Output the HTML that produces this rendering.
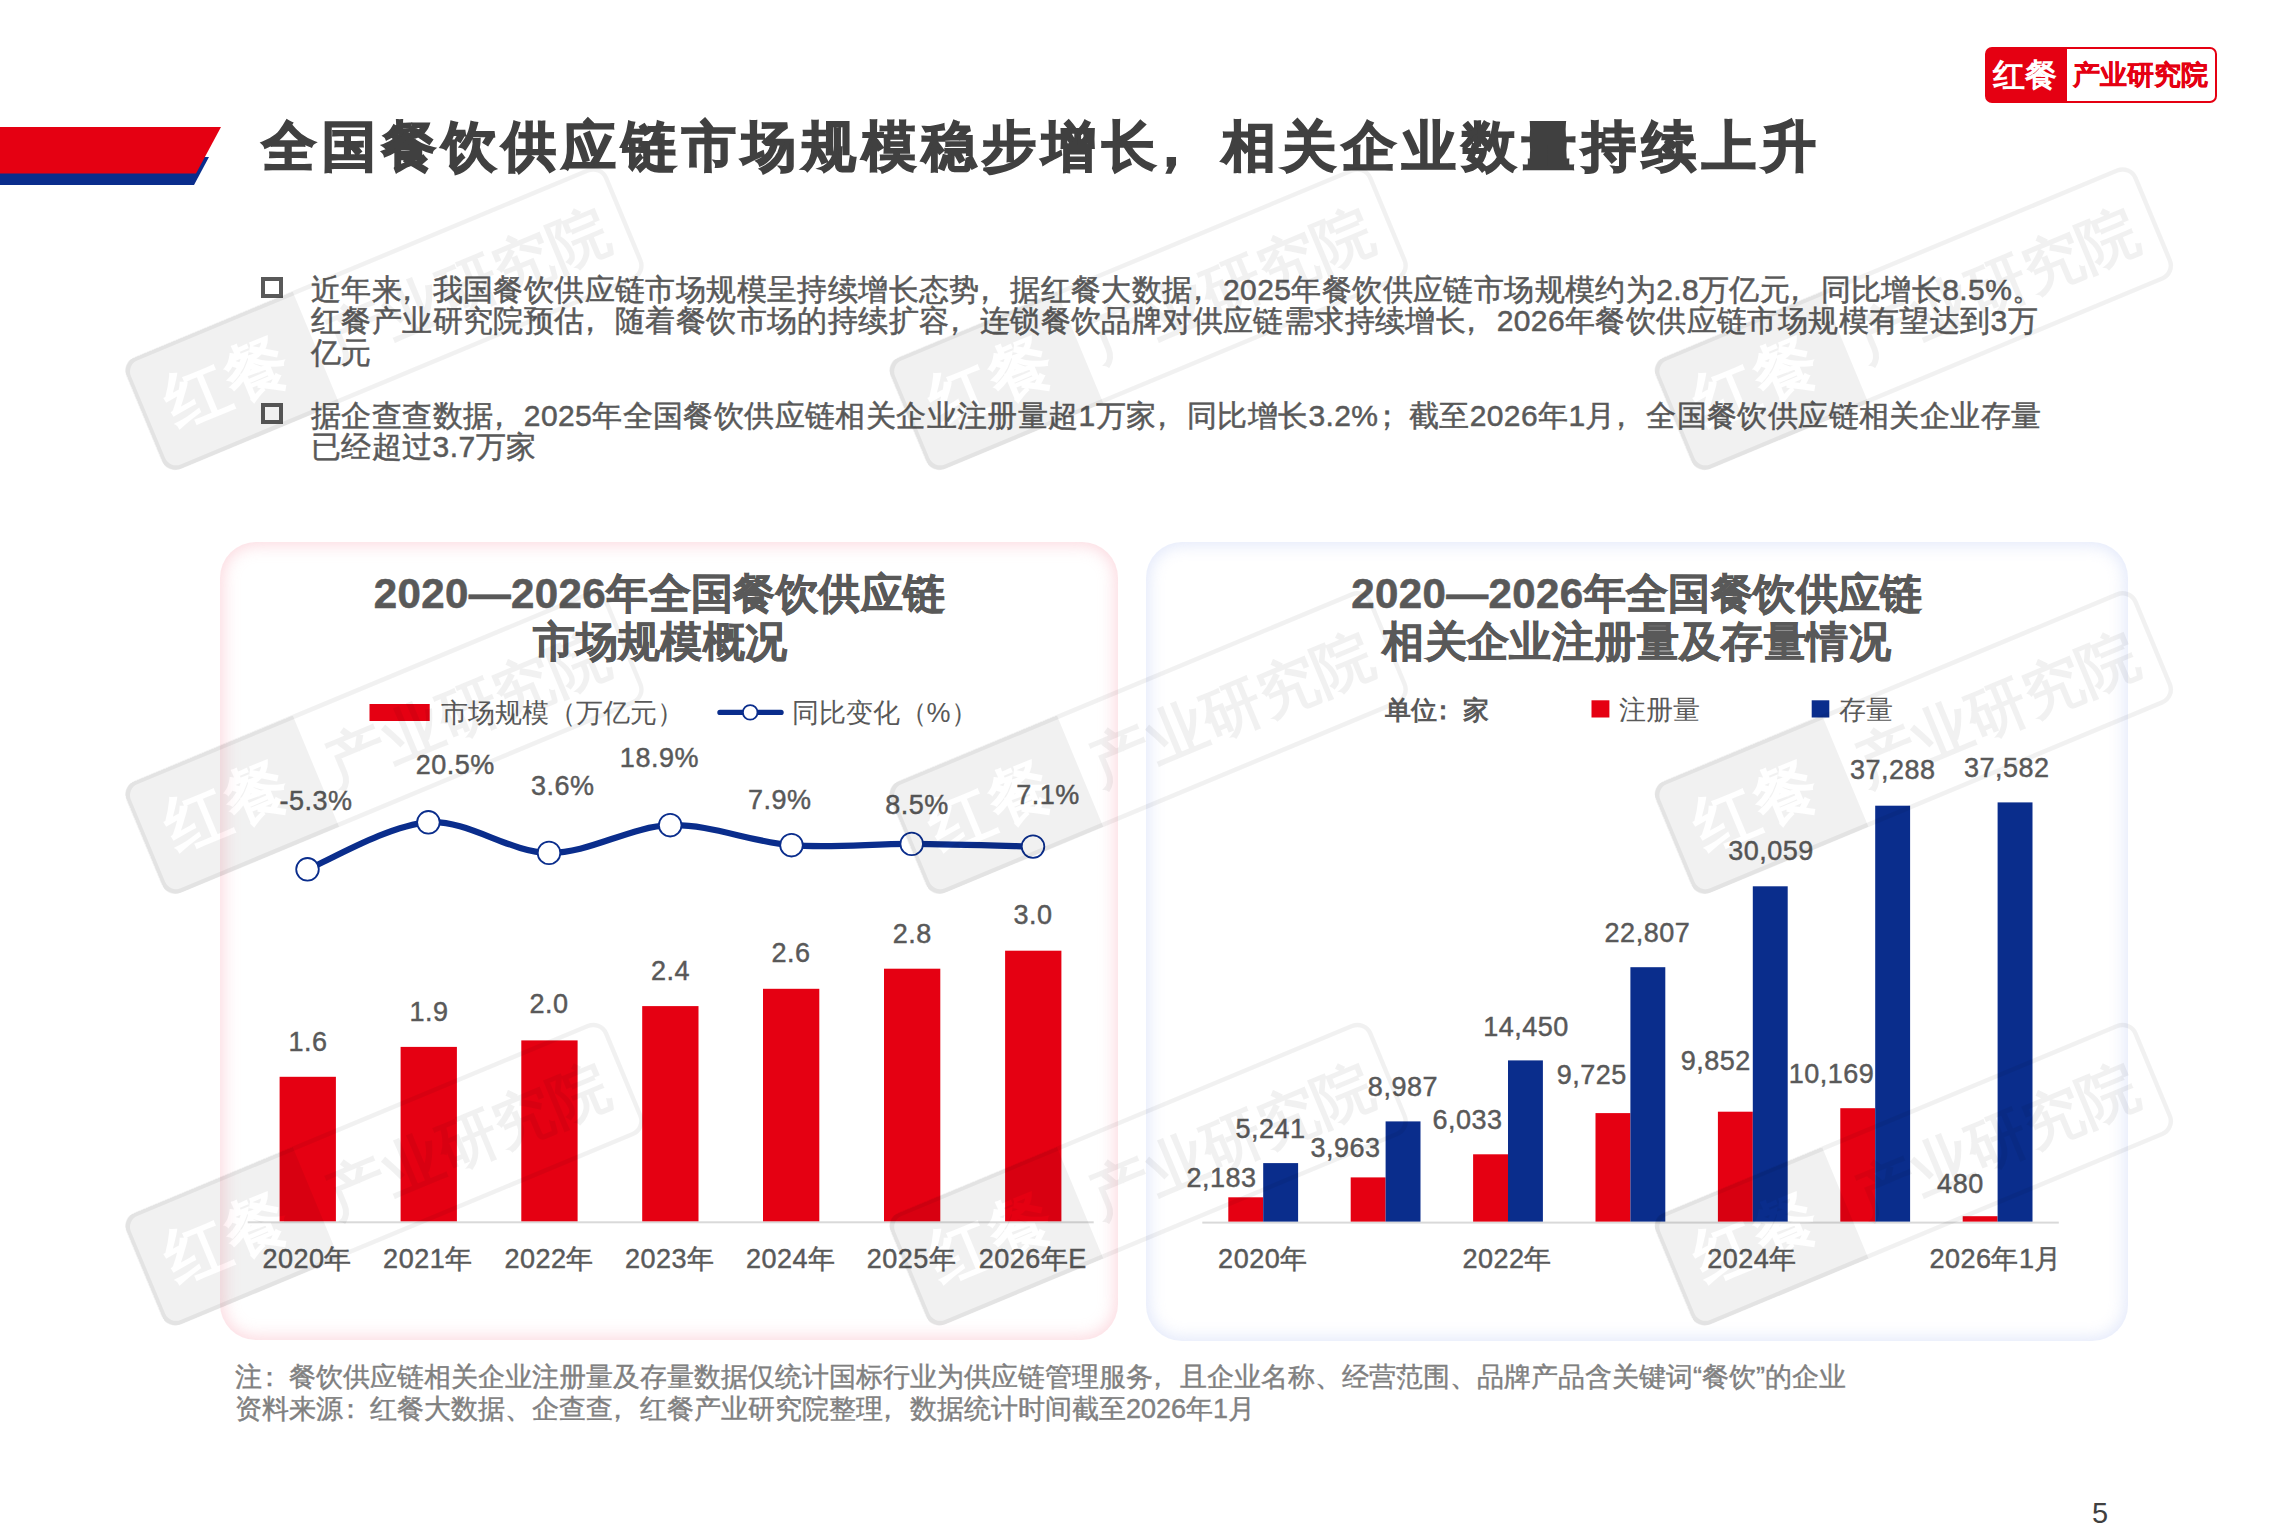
<!DOCTYPE html>
<html lang="zh"><head><meta charset="utf-8"><title>全国餐饮供应链市场规模稳步增长</title>
<style>
html,body{margin:0;padding:0;background:#fff;}
body{width:2296px;height:1530px;position:relative;overflow:hidden;font-family:"Liberation Sans", sans-serif;color:#595959;}
.abs{position:absolute;white-space:nowrap;}
.pc{position:relative;left:-0.33em;}
.pk{position:relative;left:-0.22em;}
.card{position:absolute;border-radius:36px;background:#fff;}
.cl{left:220px;top:542px;width:898px;height:798px;box-shadow:inset 0 0 16px 3px rgba(248,170,185,.45);}
.cr{left:1146px;top:542px;width:982px;height:799px;box-shadow:inset 0 0 16px 3px rgba(190,205,245,.45);}
.title{left:261.5px;top:110.5px;font-size:54px;letter-spacing:6px;font-weight:bold;color:#404040;line-height:70px;-webkit-text-stroke:1.7px #404040;}
.para{left:311px;font-size:30px;letter-spacing:0.4px;-webkit-text-stroke:0.5px #595959;line-height:31.8px;color:#595959;}
.bul{position:absolute;left:261px;width:14px;height:13px;border:4px solid #595959;}
.note{left:235px;font-size:27px;line-height:31.6px;color:#808080;-webkit-text-stroke:0.4px #808080;}
svg{position:absolute;left:0;top:0;overflow:visible;}
</style></head><body>

<svg width="2296" height="1530" style="z-index:0">
<polygon points="0,157 209,157 194,185 0,185" fill="#0a2d8c"/>
<polygon points="0,127 221,127 196,173.5 0,173.5" fill="#e50012"/>
</svg>
<div class="abs title">全国餐饮供应链市场规模稳步增长<span class="pc">，</span>相关企业数量持续上升</div>
<div class="abs" style="left:1985px;top:47px;width:228px;height:52px;border:2px solid #e50012;border-radius:7px;background:linear-gradient(to right,#e50012 0,#e50012 80px,#fff 80px);">
<div class="abs" style="left:6px;top:7px;font-size:32px;line-height:38px;font-weight:bold;color:#fff;">红餐</div>
<div class="abs" style="left:86px;top:10px;font-size:27px;line-height:32px;font-weight:bold;color:#e50012;-webkit-text-stroke:0.4px #e50012;">产业研究院</div>
</div>
<div class="bul" style="top:277px"></div>
<div class="bul" style="top:403px"></div>
<div class="abs para" style="top:273.5px">近年来<span class="pc">，</span>我国餐饮供应链市场规模呈持续增长态势<span class="pc">，</span>据红餐大数据<span class="pc">，</span>2025年餐饮供应链市场规模约为2.8万亿元<span class="pc">，</span>同比增长8.5%。<br>红餐产业研究院预估<span class="pc">，</span>随着餐饮市场的持续扩容<span class="pc">，</span>连锁餐饮品牌对供应链需求持续增长<span class="pc">，</span>2026年餐饮供应链市场规模有望达到3万<br>亿元</div>
<div class="abs para" style="top:399.5px">据企查查数据<span class="pc">，</span>2025年全国餐饮供应链相关企业注册量超1万家<span class="pc">，</span>同比增长3.2%<span class="pk">；</span>截至2026年1月<span class="pc">，</span>全国餐饮供应链相关企业存量<br>已经超过3.7万家</div>
<div class="card cl"></div>
<div class="card cr"></div>
<svg width="2296" height="1530" font-family="'Liberation Sans', sans-serif">
<g font-size="42" font-weight="bold" fill="#595959" stroke="#595959" stroke-width="0.6" letter-spacing="0.4" text-anchor="middle">
<text x="659.5" y="608">2020—2026年全国餐饮供应链</text>
<text x="660.5" y="656">市场规模概况</text>
<text x="1637" y="608">2020—2026年全国餐饮供应链</text>
<text x="1636.6" y="656">相关企业注册量及存量情况</text>
</g>
<rect x="369.5" y="704" width="60.2" height="17" fill="#e50012"/>
<text x="440.5" y="722" font-size="27" fill="#595959">市场规模（万亿元）</text>
<line x1="720" y1="712.4" x2="781" y2="712.4" stroke="#0a2d8c" stroke-width="5.4" stroke-linecap="round"/>
<circle cx="750.2" cy="712.4" r="7.3" fill="#fff" stroke="#0a2d8c" stroke-width="1.8"/>
<text x="791.5" y="722" font-size="27" fill="#595959">同比变化（%）</text>
<rect x="247.7" y="1221.3" width="846" height="2" fill="#d9d9d9"/>
<rect x="279.6" y="1076.8" width="56.3" height="144.5" fill="#e50012"/>
<rect x="400.6" y="1046.9" width="56.3" height="174.4" fill="#e50012"/>
<rect x="521.3" y="1040.4" width="56.3" height="180.9" fill="#e50012"/>
<rect x="642.2" y="1006.1" width="56.3" height="215.2" fill="#e50012"/>
<rect x="763.0" y="988.8" width="56.3" height="232.5" fill="#e50012"/>
<rect x="884.0" y="968.7" width="56.3" height="252.6" fill="#e50012"/>
<rect x="1005.1" y="950.7" width="56.3" height="270.6" fill="#e50012"/>
<g font-size="27" fill="#595959" stroke="#595959" stroke-width="0.45" letter-spacing="0.5" text-anchor="middle">
<text x="307.9" y="1050.5">1.6</text>
<text x="429.1" y="1020.5">1.9</text>
<text x="548.9" y="1013.4">2.0</text>
<text x="670.4" y="979.7">2.4</text>
<text x="791.1" y="962.4">2.6</text>
<text x="912.2" y="943.1">2.8</text>
<text x="1033.0" y="923.5">3.0</text>
<text x="307.2" y="1267.5">2020年</text>
<text x="427.9" y="1267.5">2021年</text>
<text x="549.2" y="1267.5">2022年</text>
<text x="669.7" y="1267.5">2023年</text>
<text x="790.7" y="1267.5">2024年</text>
<text x="911.5" y="1267.5">2025年</text>
<text x="1032.8" y="1267.5">2026年E</text>
<text x="316.0" y="809.5">-5.3%</text>
<text x="455.2" y="773.8">20.5%</text>
<text x="562.7" y="794.5">3.6%</text>
<text x="659.4" y="766.8">18.9%</text>
<text x="779.8" y="809.4">7.9%</text>
<text x="916.9" y="813.6">8.5%</text>
<text x="1048.0" y="803.8">7.1%</text>
</g>
<path d="M307.5,869.3 C327.6,861.5 388.1,825.0 428.4,822.3 C468.6,819.6 508.7,852.4 549.0,852.9 C589.3,853.4 629.8,826.5 670.2,825.2 C710.6,823.9 751.2,842.1 791.5,845.2 C831.8,848.3 871.5,843.7 911.7,843.9 C952.0,844.1 1012.8,846.1 1033.0,846.6" fill="none" stroke="#0a2d8c" stroke-width="6.2" stroke-linejoin="round"/>
<circle cx="307.5" cy="869.3" r="11.3" fill="#fff" stroke="#0a2d8c" stroke-width="1.8"/>
<circle cx="428.4" cy="822.3" r="11.3" fill="#fff" stroke="#0a2d8c" stroke-width="1.8"/>
<circle cx="549.0" cy="852.9" r="11.3" fill="#fff" stroke="#0a2d8c" stroke-width="1.8"/>
<circle cx="670.2" cy="825.2" r="11.3" fill="#fff" stroke="#0a2d8c" stroke-width="1.8"/>
<circle cx="791.5" cy="845.2" r="11.3" fill="#fff" stroke="#0a2d8c" stroke-width="1.8"/>
<circle cx="911.7" cy="843.9" r="11.3" fill="#fff" stroke="#0a2d8c" stroke-width="1.8"/>
<circle cx="1033.0" cy="846.6" r="11.3" fill="#fff" stroke="#0a2d8c" stroke-width="1.8"/>
<text x="1384.6" y="719" font-size="26" fill="#595959" font-weight="bold">单位<tspan dx="-7">：</tspan><tspan dx="7">家</tspan></text>
<rect x="1591.5" y="700.3" width="17.9" height="17.2" fill="#e50012"/>
<text x="1618.8" y="719" font-size="27" fill="#595959">注册量</text>
<rect x="1811.7" y="700.3" width="17.6" height="17.2" fill="#0a2d8c"/>
<text x="1839.2" y="719" font-size="27" fill="#595959">存量</text>
<rect x="1202.3" y="1221.6" width="856.5" height="2" fill="#d9d9d9"/>
<rect x="1228.3" y="1197.3" width="34.9" height="24.3" fill="#e50012"/>
<rect x="1263.2" y="1163.1" width="34.9" height="58.5" fill="#0a2d8c"/>
<rect x="1350.7" y="1177.4" width="34.9" height="44.2" fill="#e50012"/>
<rect x="1385.6" y="1121.4" width="34.9" height="100.2" fill="#0a2d8c"/>
<rect x="1473.1" y="1154.3" width="34.9" height="67.3" fill="#e50012"/>
<rect x="1508.0" y="1060.4" width="34.9" height="161.2" fill="#0a2d8c"/>
<rect x="1595.5" y="1113.1" width="34.9" height="108.5" fill="#e50012"/>
<rect x="1630.4" y="967.2" width="34.9" height="254.4" fill="#0a2d8c"/>
<rect x="1717.9" y="1111.7" width="34.9" height="109.9" fill="#e50012"/>
<rect x="1752.8" y="886.3" width="34.9" height="335.3" fill="#0a2d8c"/>
<rect x="1840.3" y="1108.2" width="34.9" height="113.4" fill="#e50012"/>
<rect x="1875.2" y="805.7" width="34.9" height="415.9" fill="#0a2d8c"/>
<rect x="1962.7" y="1216.2" width="34.9" height="5.4" fill="#e50012"/>
<rect x="1997.6" y="802.4" width="34.9" height="419.2" fill="#0a2d8c"/>
<g font-size="27" fill="#595959" stroke="#595959" stroke-width="0.45" letter-spacing="0.5" text-anchor="middle">
<text x="1221.6" y="1186.7">2,183</text>
<text x="1345.5" y="1156.5">3,963</text>
<text x="1467.5" y="1129.4">6,033</text>
<text x="1591.8" y="1084.4">9,725</text>
<text x="1715.7" y="1069.9">9,852</text>
<text x="1831.5" y="1082.8">10,169</text>
<text x="1960.4" y="1192.8">480</text>
<text x="1270.6" y="1137.8">5,241</text>
<text x="1402.9" y="1096.0">8,987</text>
<text x="1526.0" y="1035.6">14,450</text>
<text x="1647.4" y="941.6">22,807</text>
<text x="1771.0" y="860.3">30,059</text>
<text x="1892.7" y="779.3">37,288</text>
<text x="2006.7" y="777.2">37,582</text>
<text x="1262.9" y="1267.5">2020年</text>
<text x="1507.2" y="1267.5">2022年</text>
<text x="1752.0" y="1267.5">2024年</text>
<text x="1995.7" y="1267.5">2026年1月</text>
</g>
</svg>
<div class="abs note" style="top:1362px">注<span class="pk">：</span>餐饮供应链相关企业注册量及存量数据仅统计国标行业为供应链管理服务<span class="pc">，</span>且企业名称、经营范围、品牌产品含关键词“餐饮”的企业<br>资料来源<span class="pk">：</span>红餐大数据、企查查<span class="pc">，</span>红餐产业研究院整理<span class="pc">，</span>数据统计时间截至2026年1月</div>
<div class="abs" style="left:2092px;top:1497px;font-size:29px;line-height:33px;color:#404040;">5</div>
<svg width="2296" height="1530" style="pointer-events:none" font-family="'Liberation Sans', sans-serif" font-weight="bold">
<defs><mask id="wmk" maskUnits="userSpaceOnUse" x="-260" y="-60" width="521" height="121"><rect x="-260" y="-60" width="521" height="121" fill="#fff"/><text x="-234.5" y="20.0" font-size="64" font-weight="bold" fill="#000">红餐</text></mask></defs>
<g transform="translate(384.6,318.5) rotate(-22.6)" fill="rgba(0,0,0,0.055)">
<path d="M-246.5,-60.5 h172.0 v121.0 h-172.0 a14,14 0 0 1 -14,-14 v-93.0 a14,14 0 0 1 14,-14 z" mask="url(#wmk)"/>
<rect x="-258.5" y="-58.5" width="517.0" height="117.0" rx="14" fill="none" stroke="rgba(0,0,0,0.055)" stroke-width="4.5"/>
<text x="-60.5" y="22.0" font-size="60">产业研究院</text>
</g>
<g transform="translate(1148.8,318.5) rotate(-22.6)" fill="rgba(0,0,0,0.055)">
<path d="M-246.5,-60.5 h172.0 v121.0 h-172.0 a14,14 0 0 1 -14,-14 v-93.0 a14,14 0 0 1 14,-14 z" mask="url(#wmk)"/>
<rect x="-258.5" y="-58.5" width="517.0" height="117.0" rx="14" fill="none" stroke="rgba(0,0,0,0.055)" stroke-width="4.5"/>
<text x="-60.5" y="22.0" font-size="60">产业研究院</text>
</g>
<g transform="translate(1914.0,318.5) rotate(-22.6)" fill="rgba(0,0,0,0.055)">
<path d="M-246.5,-60.5 h172.0 v121.0 h-172.0 a14,14 0 0 1 -14,-14 v-93.0 a14,14 0 0 1 14,-14 z" mask="url(#wmk)"/>
<rect x="-258.5" y="-58.5" width="517.0" height="117.0" rx="14" fill="none" stroke="rgba(0,0,0,0.055)" stroke-width="4.5"/>
<text x="-60.5" y="22.0" font-size="60">产业研究院</text>
</g>
<g transform="translate(384.6,742.3) rotate(-22.6)" fill="rgba(0,0,0,0.055)">
<path d="M-246.5,-60.5 h172.0 v121.0 h-172.0 a14,14 0 0 1 -14,-14 v-93.0 a14,14 0 0 1 14,-14 z" mask="url(#wmk)"/>
<rect x="-258.5" y="-58.5" width="517.0" height="117.0" rx="14" fill="none" stroke="rgba(0,0,0,0.055)" stroke-width="4.5"/>
<text x="-60.5" y="22.0" font-size="60">产业研究院</text>
</g>
<g transform="translate(1148.8,742.3) rotate(-22.6)" fill="rgba(0,0,0,0.055)">
<path d="M-246.5,-60.5 h172.0 v121.0 h-172.0 a14,14 0 0 1 -14,-14 v-93.0 a14,14 0 0 1 14,-14 z" mask="url(#wmk)"/>
<rect x="-258.5" y="-58.5" width="517.0" height="117.0" rx="14" fill="none" stroke="rgba(0,0,0,0.055)" stroke-width="4.5"/>
<text x="-60.5" y="22.0" font-size="60">产业研究院</text>
</g>
<g transform="translate(1914.0,742.3) rotate(-22.6)" fill="rgba(0,0,0,0.055)">
<path d="M-246.5,-60.5 h172.0 v121.0 h-172.0 a14,14 0 0 1 -14,-14 v-93.0 a14,14 0 0 1 14,-14 z" mask="url(#wmk)"/>
<rect x="-258.5" y="-58.5" width="517.0" height="117.0" rx="14" fill="none" stroke="rgba(0,0,0,0.055)" stroke-width="4.5"/>
<text x="-60.5" y="22.0" font-size="60">产业研究院</text>
</g>
<g transform="translate(384.6,1174.0) rotate(-22.6)" fill="rgba(0,0,0,0.055)">
<path d="M-246.5,-60.5 h172.0 v121.0 h-172.0 a14,14 0 0 1 -14,-14 v-93.0 a14,14 0 0 1 14,-14 z" mask="url(#wmk)"/>
<rect x="-258.5" y="-58.5" width="517.0" height="117.0" rx="14" fill="none" stroke="rgba(0,0,0,0.055)" stroke-width="4.5"/>
<text x="-60.5" y="22.0" font-size="60">产业研究院</text>
</g>
<g transform="translate(1148.8,1174.0) rotate(-22.6)" fill="rgba(0,0,0,0.055)">
<path d="M-246.5,-60.5 h172.0 v121.0 h-172.0 a14,14 0 0 1 -14,-14 v-93.0 a14,14 0 0 1 14,-14 z" mask="url(#wmk)"/>
<rect x="-258.5" y="-58.5" width="517.0" height="117.0" rx="14" fill="none" stroke="rgba(0,0,0,0.055)" stroke-width="4.5"/>
<text x="-60.5" y="22.0" font-size="60">产业研究院</text>
</g>
<g transform="translate(1914.0,1174.0) rotate(-22.6)" fill="rgba(0,0,0,0.055)">
<path d="M-246.5,-60.5 h172.0 v121.0 h-172.0 a14,14 0 0 1 -14,-14 v-93.0 a14,14 0 0 1 14,-14 z" mask="url(#wmk)"/>
<rect x="-258.5" y="-58.5" width="517.0" height="117.0" rx="14" fill="none" stroke="rgba(0,0,0,0.055)" stroke-width="4.5"/>
<text x="-60.5" y="22.0" font-size="60">产业研究院</text>
</g>
</svg>
</body></html>
